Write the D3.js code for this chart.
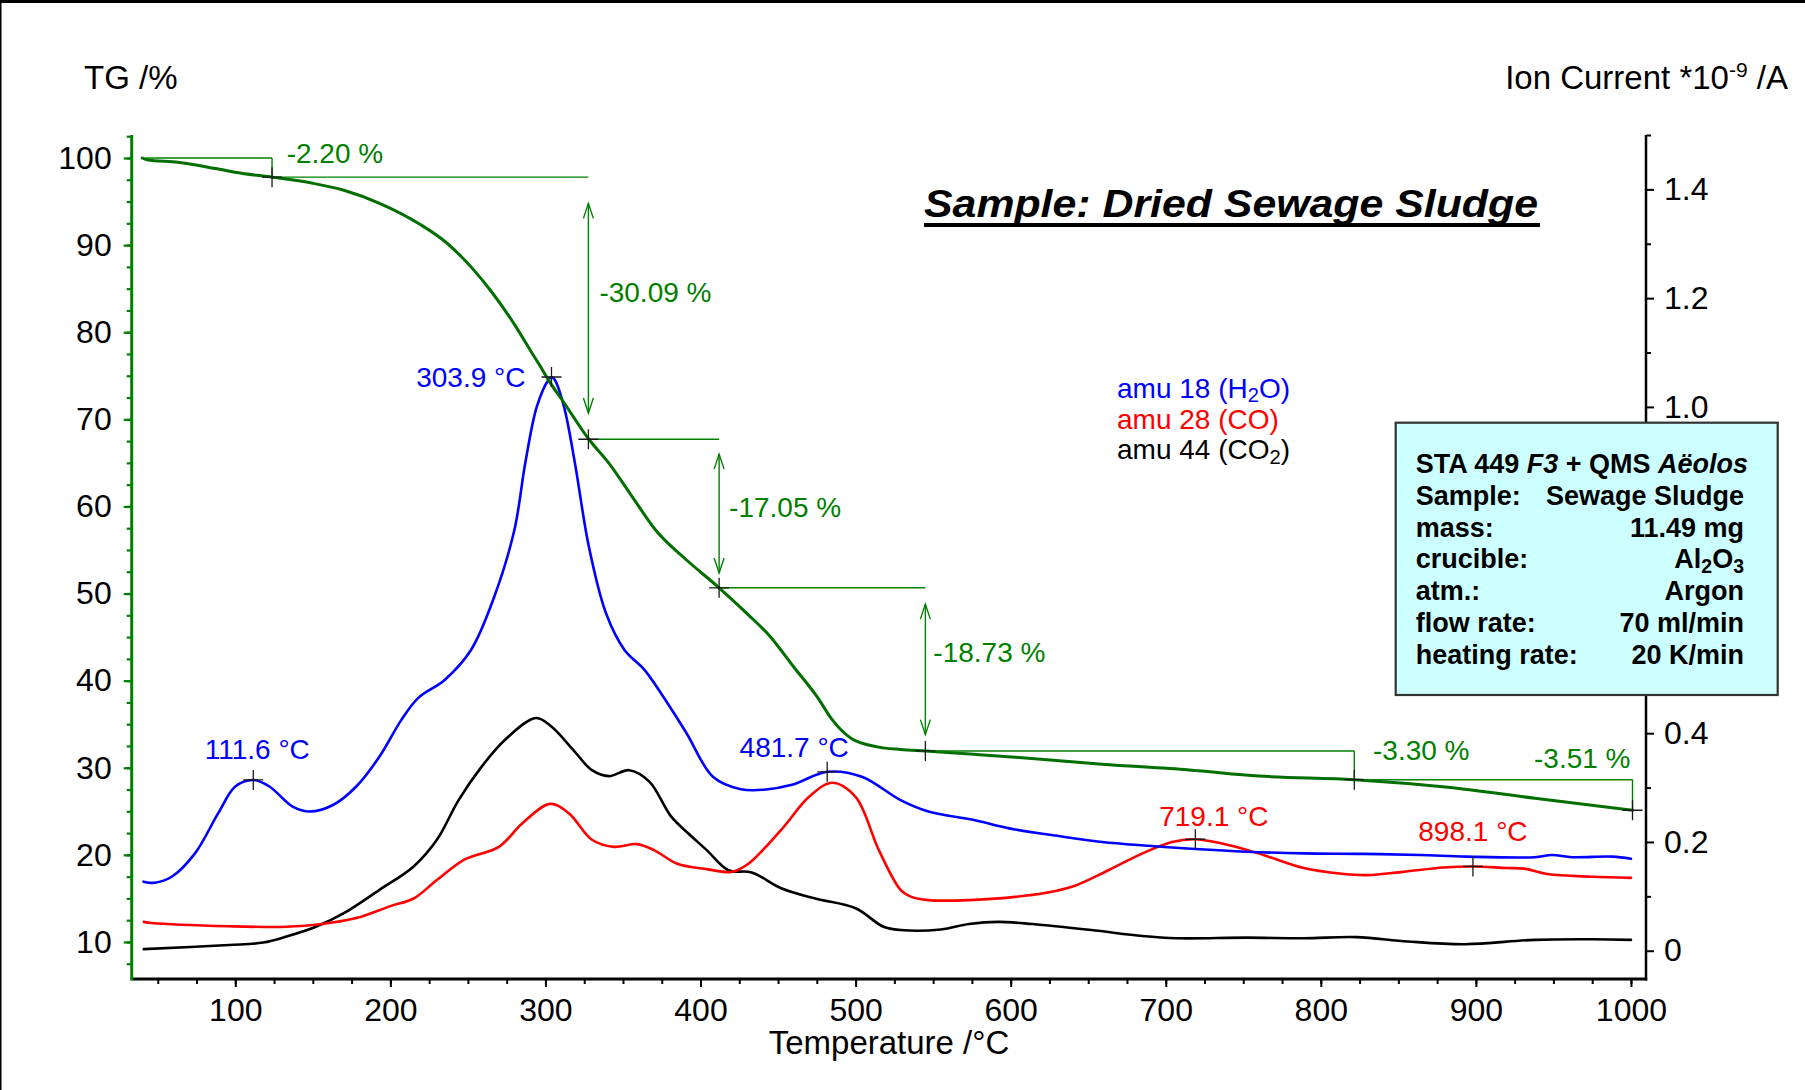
<!DOCTYPE html>
<html>
<head>
<meta charset="utf-8">
<script src="https://cdn.jsdelivr.net/npm/d3@7"></script>
<style>
  html, body { margin: 0; padding: 0; background: #ffffff; }
  svg { display: block; }
</style>
</head>
<body>
<svg id="chart" width="1805" height="1090"></svg>
<script>
// ---- TG curve: temperature (°C) vs mass (%) ----
const tgTemp = [40, 43, 63, 87, 104, 124, 150, 170, 193, 219, 236, 253, 265, 280, 291, 298, 302, 312, 328, 341, 356, 371, 391, 412, 430, 445, 460, 475, 485, 497, 514, 529, 545, 580, 603, 659, 715, 760, 822, 882, 938, 1001];
const tgMass = [100.0, 99.8, 99.5, 98.8, 98.25, 97.8, 97.1, 96.3, 94.8, 92.4, 90.3, 87.3, 84.7, 80.9, 77.7, 75.7, 74.5, 71.9, 67.71, 64.95, 61.1, 57.3, 53.85, 50.66, 47.7, 45.05, 41.6, 38.2, 35.5, 33.4, 32.4, 32.1, 31.93, 31.5, 31.2, 30.4, 29.75, 29.05, 28.63, 27.75, 26.5, 25.12];

// ---- ion currents (*10^-9 A) ----
const h2oTemp = [40.8, 48, 59, 74, 89, 100, 111.6, 122, 137, 148, 163, 178, 193, 207, 218, 235, 252, 267, 280, 287, 294.5, 302, 303.9, 306, 312, 319, 328, 339, 351, 364, 376, 391, 408, 426, 441, 459, 481.7, 504, 529, 547, 577, 599, 633, 659, 689, 719, 752, 789, 827, 864, 894, 938, 949, 962, 988, 1000];
const h2oIon  = [0.127, 0.125, 0.136, 0.179, 0.253, 0.302, 0.314, 0.302, 0.265, 0.256, 0.268, 0.302, 0.357, 0.424, 0.465, 0.498, 0.553, 0.651, 0.774, 0.897, 1.001, 1.050, 1.055, 1.050, 1.000, 0.897, 0.743, 0.621, 0.553, 0.516, 0.467, 0.400, 0.320, 0.297, 0.296, 0.305, 0.329, 0.320, 0.277, 0.256, 0.240, 0.225, 0.210, 0.200, 0.193, 0.187, 0.182, 0.179, 0.178, 0.176, 0.173, 0.172, 0.176, 0.172, 0.173, 0.169];

const coTemp = [41, 46, 96, 133, 156, 178, 200, 215, 230, 248, 270, 285, 303, 315, 330, 344, 359, 370, 385, 404, 420, 430, 452, 470, 485, 500, 515, 529, 536, 547, 573, 603, 622, 640, 663, 685, 704, 719.1, 741, 763, 789, 812, 830, 853, 879, 898.1, 920, 931, 946, 975, 1000];
const coIon  = [0.053, 0.051, 0.045, 0.044, 0.049, 0.060, 0.082, 0.096, 0.130, 0.168, 0.191, 0.234, 0.270, 0.253, 0.204, 0.191, 0.196, 0.185, 0.160, 0.150, 0.145, 0.158, 0.222, 0.283, 0.309, 0.283, 0.185, 0.112, 0.099, 0.093, 0.093, 0.099, 0.106, 0.118, 0.148, 0.179, 0.200, 0.205, 0.194, 0.176, 0.152, 0.142, 0.139, 0.145, 0.153, 0.155, 0.152, 0.151, 0.141, 0.136, 0.134];

const co2Temp = [41, 96, 118, 133, 152, 170, 193, 215, 230, 244, 259, 274, 294, 304, 318, 330, 341, 354, 367, 381, 392, 404, 418, 433, 452, 474, 500, 518, 529, 555, 573, 592, 614, 652, 685, 707, 752, 789, 823, 856, 893, 938, 975, 1000];
const co2Ion  = [0.003, 0.0105, 0.015, 0.026, 0.044, 0.069, 0.112, 0.155, 0.204, 0.277, 0.339, 0.388, 0.428, 0.412, 0.369, 0.332, 0.321, 0.332, 0.311, 0.247, 0.216, 0.185, 0.148, 0.144, 0.115, 0.096, 0.078, 0.044, 0.038, 0.039, 0.049, 0.053, 0.049, 0.038, 0.027, 0.023, 0.024, 0.023, 0.025, 0.017, 0.012, 0.020, 0.021, 0.020];

// ---- evaluated peaks (°C) ----
const h2oPeaks = [111.6, 303.9, 481.7];
const coPeaks  = [719.1, 898.1];

// ---- mass-loss steps: boundary temperatures (°C) and TG levels (%) ----
const stepTemps  = [41.8, 123.7, 327.7, 412.0, 545.0, 821.6, 1001.0];
const stepLevels = [100.00, 97.80, 67.71, 50.66, 31.93, 28.63, 25.12];

// ---- axis ticks ----
const tempTicks = [100, 200, 300, 400, 500, 600, 700, 800, 900, 1000];
const tgTicks   = [10, 20, 30, 40, 50, 60, 70, 80, 90, 100];
const ionTicks  = [0, 0.2, 0.4, 0.6, 0.8, 1.0, 1.2, 1.4];

// ---- legend and measurement info ----
const gasLabels = ["amu 18 (H_2O)", "amu 28 (CO)", "amu 44 (CO_2)"];
const infoRows  = [["Sample:", "Sewage Sludge"], ["mass:", "11.49 mg"], ["crucible:", "Al_2O_3"], ["atm.:", "Argon"], ["flow rate:", "70 ml/min"], ["heating rate:", "20 K/min"]];

// ================= drawing =================
const FONT = '"Liberation Sans", Arial, Helvetica, sans-serif';
const GREEN_CURVE = "#006f00", GREEN = "#008000";
const svg = d3.select("#chart").style("font-family", FONT);

const plot = { left: 131.7, right: 1646, top: 135, bottom: 979 };
const x    = d3.scaleLinear().domain([33.2, 1009.7]).range([plot.left, plot.right]);
const yTG  = d3.scaleLinear().domain([5.75, 102.64]).range([plot.bottom, plot.top]);
const yIon = d3.scaleLinear().domain([-0.052, 1.5]).range([plot.bottom, plot.top]);

// frame edges
svg.append("rect").attr("x", 0).attr("y", 0).attr("width", 1805).attr("height", 3).attr("fill", "#000");
svg.append("line").attr("x1", 0.75).attr("x2", 0.75).attr("y1", 0).attr("y2", 1090).attr("stroke", "#000").attr("stroke-width", 1.5);

// helper: text with "_n" subscripts
function richText(sel, str) {
  const parts = str.split(/_(\d)/);
  parts.forEach((p, i) => {
    if (p === "") return;
    if (i % 2 === 1) {
      sel.append("tspan").attr("font-size", "72%").attr("dy", "0.22em").text(p);
    } else {
      const t = sel.append("tspan").text(p);
      if (i > 0) t.attr("dy", "-0.16em");
    }
  });
}

// ---- axes ----
function styleAxis(g, color, width) {
  g.select(".domain").remove();
  g.selectAll(".tick line").attr("stroke", color).attr("stroke-width", width);
  g.selectAll(".tick text").attr("fill", "#000").style("font-family", FONT).attr("font-size", 32);
}

// left TG axis
const gLeftMinor = svg.append("g").attr("transform", `translate(${plot.left},0)`)
  .call(d3.axisLeft(yTG).tickValues(d3.range(7.5, 103, 2.5)).tickSize(5).tickFormat(""));
styleAxis(gLeftMinor, GREEN, 2.2);
const gLeft = svg.append("g").attr("transform", `translate(${plot.left},0)`)
  .call(d3.axisLeft(yTG).tickValues(tgTicks).tickSize(8).tickPadding(12).tickFormat(d3.format("d")));
styleAxis(gLeft, GREEN, 2.2);

// bottom temperature axis
const gBotMinor = svg.append("g").attr("transform", `translate(0,${plot.bottom})`)
  .call(d3.axisBottom(x).tickValues(d3.range(50, 1001, 25)).tickSize(5).tickFormat(""));
styleAxis(gBotMinor, "#000", 2);
const gBot = svg.append("g").attr("transform", `translate(0,${plot.bottom})`)
  .call(d3.axisBottom(x).tickValues(tempTicks).tickSize(8).tickPadding(11).tickFormat(d3.format("d")));
styleAxis(gBot, "#000", 2);

// right ion-current axis
const gRightMinor = svg.append("g").attr("transform", `translate(${plot.right},0)`)
  .call(d3.axisRight(yIon).tickValues(d3.range(0.1, 1.51, 0.2)).tickSize(5).tickFormat(""));
styleAxis(gRightMinor, "#000", 2);
const gRight = svg.append("g").attr("transform", `translate(${plot.right},0)`)
  .call(d3.axisRight(yIon).tickValues(ionTicks).tickSize(8).tickPadding(10).tickFormat(v => v === 0 ? "0" : v.toFixed(1)));
styleAxis(gRight, "#000", 2);

// axis lines
svg.append("line").attr("x1", plot.left).attr("x2", plot.right + 1.2).attr("y1", plot.bottom).attr("y2", plot.bottom)
  .attr("stroke", "#000").attr("stroke-width", 3);
svg.append("line").attr("x1", plot.right).attr("x2", plot.right).attr("y1", plot.top).attr("y2", plot.bottom + 1.5)
  .attr("stroke", "#000").attr("stroke-width", 2.5);
svg.append("line").attr("x1", plot.left).attr("x2", plot.left).attr("y1", plot.top).attr("y2", plot.bottom + 1.5)
  .attr("stroke", GREEN).attr("stroke-width", 3);

// axis titles
svg.append("text").attr("x", 84).attr("y", 89).attr("font-size", 33).text("TG /%");
const ionTitle = svg.append("text").attr("x", 1788).attr("y", 89).attr("font-size", 33).attr("text-anchor", "end");
ionTitle.append("tspan").text("Ion Current *10");
ionTitle.append("tspan").attr("font-size", 21).attr("dy", -12).text("-9");
ionTitle.append("tspan").attr("dy", 12).text(" /A");
svg.append("text").attr("x", 889).attr("y", 1054).attr("font-size", 33).attr("text-anchor", "middle").text("Temperature /°C");

// title, underlined
svg.append("text").attr("x", 924).attr("y", 217).attr("font-size", 39)
  .attr("font-weight", "bold").attr("font-style", "italic")
  .attr("textLength", 614).attr("lengthAdjust", "spacingAndGlyphs")
  .text("Sample: Dried Sewage Sludge");
svg.append("rect").attr("x", 924).attr("y", 223).attr("width", 616).attr("height", 4).attr("fill", "#000");

// ---- curves ----
const zip = (a, b) => a.map((t, i) => [t, b[i]]);
const curves = [
  { temps: co2Temp, vals: co2Ion, y: yIon, color: "#000000", w: 2.6, curve: d3.curveCatmullRom.alpha(0.5) },
  { temps: coTemp,  vals: coIon,  y: yIon, color: "#ff0000", w: 2.6, curve: d3.curveCatmullRom.alpha(0.5) },
  { temps: h2oTemp, vals: h2oIon, y: yIon, color: "#0000ff", w: 2.6, curve: d3.curveCatmullRom.alpha(0.5) },
  { temps: tgTemp,  vals: tgMass, y: yTG,  color: GREEN_CURVE, w: 3, curve: d3.curveMonotoneX }
];
curves.forEach(c => {
  const line = d3.line().curve(c.curve);
  svg.append("path")
    .attr("d", line(zip(c.temps, c.vals).map(d => [x(d[0]), c.y(d[1])])))
    .attr("fill", "none").attr("stroke", c.color).attr("stroke-width", c.w)
    .attr("stroke-linejoin", "round").attr("stroke-linecap", "round");
});

// cross marker
function cross(px, py, r = 10) {
  svg.append("path").attr("d", `M${px - r},${py}H${px + r}M${px},${py - r}V${py + r}`)
    .attr("stroke", "#1a1a1a").attr("stroke-width", 1.3).attr("fill", "none");
}
const valueAt = (temps, vals, t) => d3.scaleLinear().domain(temps).range(vals)(t);

// ---- mass-loss step evaluation ----
const stepG = svg.append("g").attr("stroke", GREEN).attr("stroke-width", 1.4).attr("fill", "none");
const stepLabelPlacement = [
  { dx: 14.6, base: "top", dy: 5, anchor: "start" },
  { dx: 11, base: "mid", dy: -6, anchor: "start" },
  { dx: 10, base: "mid", dy: 3, anchor: "start" },
  { dx: 8, base: "mid", dy: -7, anchor: "start" },
  { dx: 18.7, base: "top", dy: 9, anchor: "start" },
  { dx: -2, base: "top", dy: -12, anchor: "end" }
];
for (let i = 0; i < stepLevels.length - 1; i++) {
  const xa = x(stepTemps[i]), xb = x(stepTemps[i + 1]);
  const y0 = yTG(stepLevels[i]), y1 = yTG(stepLevels[i + 1]);
  const change = stepLevels[i + 1] - stepLevels[i];
  stepG.append("line").attr("x1", xa).attr("x2", xb).attr("y1", y0).attr("y2", y0);
  if (Math.abs(change) > 10) {
    const gap = (y1 - y0) * 0.1, a = y0 + gap, b = y1 - gap;
    stepG.append("line").attr("x1", xb).attr("x2", xb).attr("y1", a).attr("y2", b);
    stepG.append("path").attr("d", `M${xb - 5},${a + 15}L${xb},${a}L${xb + 5},${a + 15}`);
    stepG.append("path").attr("d", `M${xb - 5},${b - 15}L${xb},${b}L${xb + 5},${b - 15}`);
  } else {
    stepG.append("line").attr("x1", xb).attr("x2", xb).attr("y1", y0).attr("y2", y1);
  }
  cross(xb, y1);
  const p = stepLabelPlacement[i];
  const by = p.base === "top" ? y0 : (y0 + y1) / 2;
  svg.append("text").attr("x", xb + p.dx).attr("y", by + p.dy).attr("font-size", 28)
    .attr("fill", GREEN).attr("text-anchor", p.anchor).text(change.toFixed(2) + " %");
}

// ---- peak markers ----
const peakPlacement = {
  "111.6": { dx: 4, dy: -21, anchor: "middle" },
  "303.9": { dx: -26, dy: 10, anchor: "end" },
  "481.7": { dx: -33, dy: -15, anchor: "middle" },
  "719.1": { dx: 18.5, dy: -13, anchor: "middle" },
  "898.1": { dx: 0, dy: -25, anchor: "middle" }
};
function drawPeaks(peaks, temps, vals, color) {
  peaks.forEach(t => {
    const px = x(t), py = yIon(valueAt(temps, vals, t));
    cross(px, py);
    const p = peakPlacement[t.toFixed(1)];
    svg.append("text").attr("x", px + p.dx).attr("y", py + p.dy).attr("font-size", 28)
      .attr("fill", color).attr("text-anchor", p.anchor).text(t.toFixed(1) + " °C");
  });
}
drawPeaks(h2oPeaks, h2oTemp, h2oIon, "#0000ff");
drawPeaks(coPeaks, coTemp, coIon, "#ff0000");

// ---- legend ----
const legendColors = ["#0000ff", "#ff0000", "#000000"];
gasLabels.forEach((s, i) => {
  const t = svg.append("text").attr("x", 1117).attr("y", 398 + i * 30.7).attr("font-size", 28).attr("fill", legendColors[i]);
  richText(t, s);
});

// ---- instrument info box ----
svg.append("rect").attr("x", 1395.7).attr("y", 422.7).attr("width", 382).attr("height", 272.3)
  .attr("fill", "#ccffff").attr("stroke", "#333").attr("stroke-width", 2.2);
const head = svg.append("text").attr("x", 1415.7).attr("y", 473).attr("font-size", 27).attr("font-weight", "bold");
head.append("tspan").text("STA 449 ");
head.append("tspan").attr("font-style", "italic").text("F3");
head.append("tspan").text(" + QMS ");
head.append("tspan").attr("font-style", "italic").text("Aëolos");
infoRows.forEach((r, i) => {
  const yy = 504.6 + i * 31.9;
  svg.append("text").attr("x", 1415.7).attr("y", yy).attr("font-size", 27).attr("font-weight", "bold").text(r[0]);
  const v = svg.append("text").attr("x", 1744).attr("y", yy).attr("font-size", 27).attr("font-weight", "bold").attr("text-anchor", "end");
  richText(v, r[1]);
});
</script>
</body>
</html>
